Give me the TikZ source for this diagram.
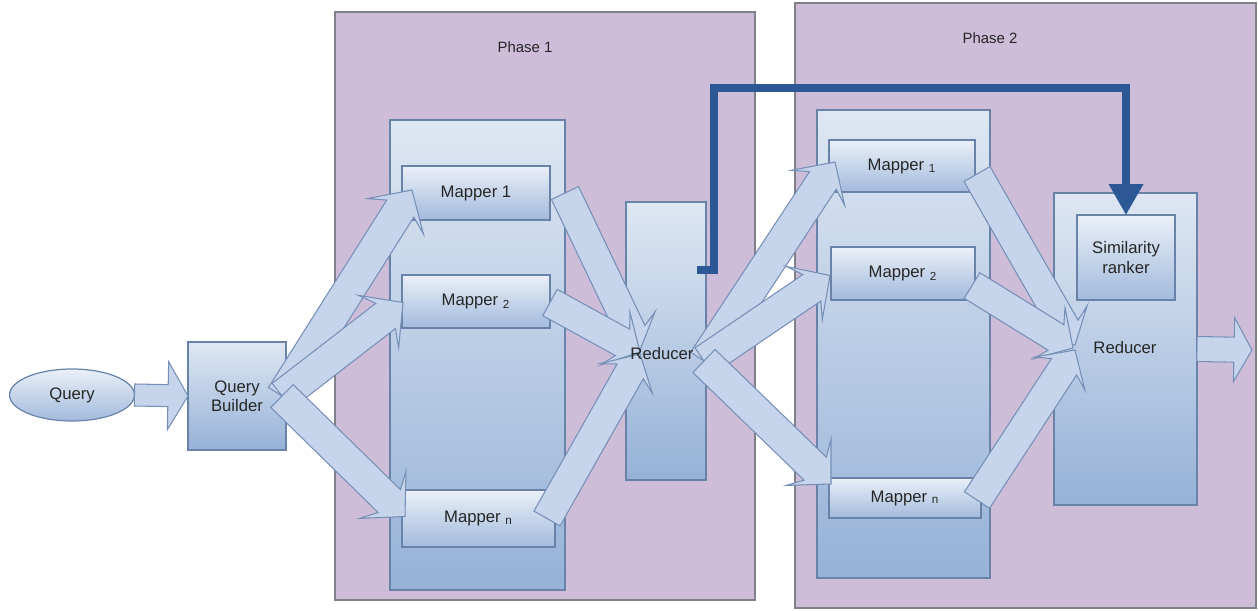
\documentclass[tikz,border=0pt]{standalone}
\usepackage{fontspec}
\setmainfont{Liberation Sans}
\usetikzlibrary{calc,shapes.geometric,arrows.meta}
\definecolor{phasebg}{RGB}{206,189,217}
\definecolor{phaseln}{RGB}{128,128,138}
\definecolor{boxtop}{RGB}{222,231,243}
\definecolor{boxbot}{RGB}{150,178,215}
\definecolor{maptop}{RGB}{234,240,248}
\definecolor{mapbot}{RGB}{162,186,220}
\definecolor{boxln}{RGB}{105,130,168}
\definecolor{arrfill}{RGB}{198,213,235}
\definecolor{arrln}{RGB}{118,143,183}
\definecolor{fbblue}{RGB}{44,88,150}
\newcommand\mkbox[6]{\node[#6, minimum width={(#4-#2)*0.02cm}, minimum height={(#5-#3)*0.02cm}] (#1) at ({(#2+#4)/2},{(#3+#5)/2})}
% start, tip, shaft half, head half, head length, sweep
\newcommand\fatarrow[6]{%
 \coordinate (fa-s) at (#1);
 \coordinate (fa-t) at (#2);
 \coordinate (fa-h) at ($(fa-t)!{#5*0.02cm}!(fa-s)$);
 \coordinate (fa-w) at ($(fa-t)!{(#5+#6)*0.02cm}!(fa-s)$);
 \filldraw[fatarr] ($(fa-s)!{#3*0.02cm}!90:(fa-t)$) -- ($(fa-h)!{#3*0.02cm}!90:(fa-t)$) -- ($(fa-w)!{#4*0.02cm}!90:(fa-t)$) -- (fa-t) -- ($(fa-w)!{#4*0.02cm}!-90:(fa-t)$) -- ($(fa-h)!{#3*0.02cm}!-90:(fa-t)$) -- ($(fa-s)!{#3*0.02cm}!-90:(fa-t)$) -- cycle;}
\begin{document}
\begin{tikzpicture}[x=0.02cm,y=-0.02cm,
  phasebox/.style={draw=phaseln,fill=phasebg,line width=0.8pt,inner sep=0pt,outer sep=0pt},
  colbox/.style={draw=boxln,top color=boxtop,bottom color=boxbot,line width=0.7pt,inner sep=0pt,outer sep=0pt},
  mapbox/.style={draw=boxln,top color=maptop,bottom color=mapbot,line width=0.7pt,inner sep=0pt,outer sep=0pt,font=\fontsize{9.5}{11}\selectfont,text=black!85},
  fatarr/.style={fill=arrfill,draw=arrln,line width=0.6pt,line join=miter},
  lbl/.style={font=\fontsize{9.5}{11}\selectfont,text=black!85,inner sep=1pt},
  phlbl/.style={font=\fontsize{8.5}{10}\selectfont,text=black!85,inner sep=1pt}]
\useasboundingbox (0,0) rectangle (1258,611);
% phases
\mkbox{p1}{335}{12}{755}{600}{phasebox} {};
\mkbox{p2}{795}{3}{1256}{608}{phasebox} {};
\node[phlbl] (p1l) at (525,47) {Phase 1};
\node[phlbl] (p2l) at (990,38) {Phase 2};
% boxes
\node[ellipse,draw=boxln,top color=maptop,bottom color=mapbot,line width=0.7pt,minimum width=2.5cm,minimum height=1.04cm,inner sep=0pt,outer sep=0pt,font=\fontsize{9.5}{11}\selectfont,text=black!85] (q) at (72,395) {Query};
\mkbox{qb}{188}{342}{286}{450}{colbox,align=center,font=\fontsize{9.5}{11}\selectfont,text=black!85} {Query\\Builder};
\mkbox{c1}{390}{120}{565}{590}{colbox} {};
\mkbox{m11}{402}{166}{550}{220}{mapbox} {Mapper 1};
\mkbox{m12}{402}{275}{550}{328}{mapbox} {Mapper \textsubscript{2}};
\mkbox{m1n}{402}{490}{555}{547}{mapbox} {Mapper \textsubscript{n}};
\mkbox{r1}{626}{202}{706}{480}{colbox} {};
\mkbox{c2}{817}{110}{990}{578}{colbox} {};
\mkbox{m21}{829}{140}{975}{192}{mapbox} {Mapper \textsubscript{1}};
\mkbox{m22}{831}{247}{975}{300}{mapbox} {Mapper \textsubscript{2}};
\mkbox{m2n}{829}{478}{981}{518}{mapbox} {Mapper \textsubscript{n}};
\mkbox{r2}{1054}{193}{1197}{505}{colbox} {};
\mkbox{sr}{1077}{215}{1175}{300}{mapbox,align=center} {Similarity\\ranker};
% fat arrows
\coordinate (out) at (1252,350);
\fatarrow{q.east}{qb.west}{11}{34}{20}{0}
\fatarrow{$(qb.east)+(-4,0)$}{$(m11.west)+(10,-3)$}{16}{33}{22}{9}
\fatarrow{$(qb.east)+(-4,0)$}{$(m12.west)+(1,1)$}{16}{33}{22}{9}
\fatarrow{$(qb.east)+(-4,0)$}{$(m1n.west)+(3,-2)$}{16}{33}{22}{9}
\fatarrow{$(m11.east)+(15,0)$}{$(r1.west)+(14,9)$}{15}{30}{20}{8}
\fatarrow{$(m12.east)+(0,1)$}{$(r1.west)+(14,11)$}{15}{30}{20}{8}
\fatarrow{$(m1n.east)+(-8,0)$}{$(r1.west)+(14,13)$}{15}{30}{20}{8}
\fatarrow{$(r1.east)+(-2,20)$}{$(m21.west)+(6,-4)$}{16}{32}{22}{9}
\fatarrow{$(r1.east)+(-2,20)$}{$(m22.west)+(-1,2)$}{16}{32}{22}{9}
\fatarrow{$(r1.east)+(-2,20)$}{$(m2n.west)+(2,-14)$}{16}{32}{22}{9}
\fatarrow{$(m21.east)+(2,8)$}{$(r2.west)+(21,-4)$}{15}{30}{20}{8}
\fatarrow{$(m22.east)+(-3,12)$}{$(r2.west)+(19,-1)$}{15}{30}{20}{8}
\fatarrow{$(m2n.east)+(-4,2)$}{$(r2.west)+(21,1)$}{15}{30}{20}{8}
\fatarrow{r2.east}{out}{12.5}{32}{18}{0}
% reducer labels
\node[lbl] (r1l) at (662,354) {Reducer};
\node[lbl] (r2l) at (1125,348) {Reducer};
% feedback line
\coordinate (fb) at ($(r1.east)+(-9,-71)$);
\coordinate (fbc) at (714,88);
\draw[fbblue,line width=4pt,-{Triangle[width=0.66cm,length=0.62cm]}] (fb) -| (fbc) -| (sr.north);
\end{tikzpicture}
\end{document}
